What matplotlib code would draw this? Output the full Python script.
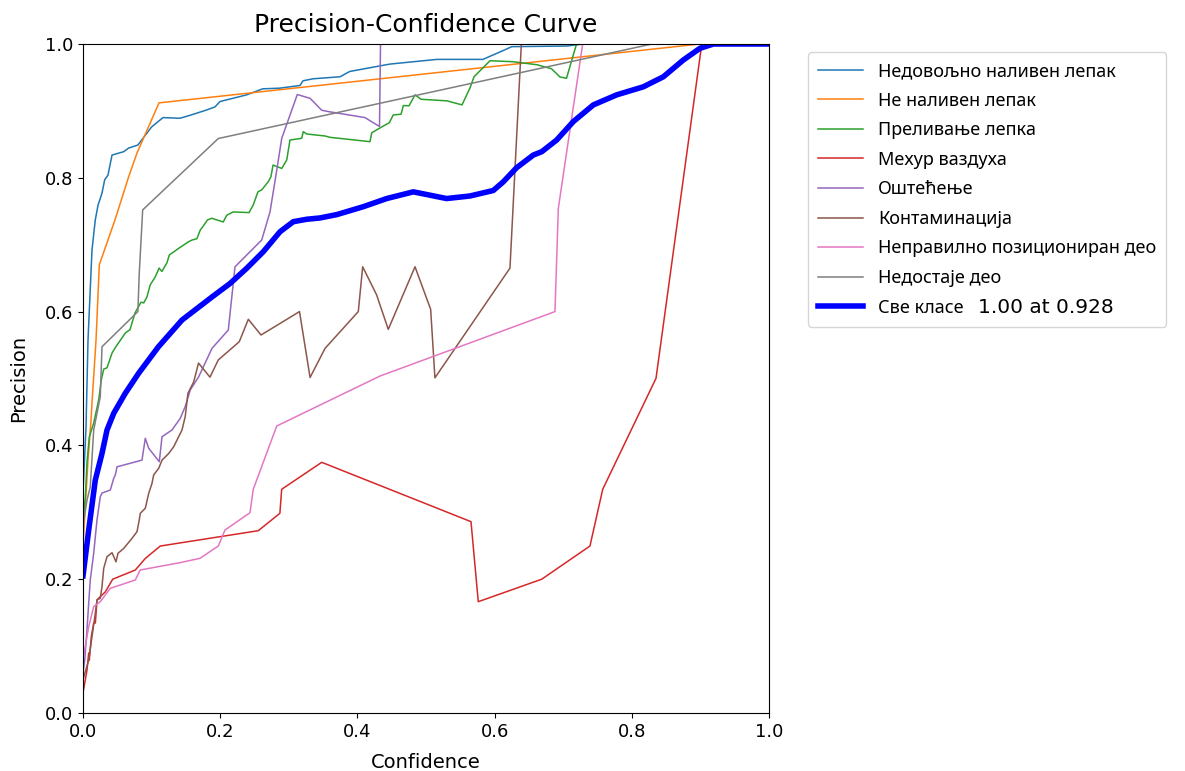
import matplotlib
matplotlib.use("Agg")
import matplotlib.pyplot as plt

plt.rcParams['font.family'] = ['DejaVu Sans']

title = "Precision-Confidence Curve"
xlabel = "Confidence"
ylabel = "Precision"

class_names = [
    "Недовољно наливен лепак",
    "Не наливен лепак",
    "Преливање лепка",
    "Мехур ваздуха",
    "Оштећење",
    "Контаминација",
    "Неправилно позициониран део",
    "Недостаје део",
]
all_name = "Све класе"
all_score = "1.00 at 0.928"

c0_x = [0.0, 0.0044, 0.0073, 0.0131, 0.0179, 0.0219, 0.0277, 0.0316, 0.0364, 0.0423, 0.0593, 0.0666, 0.080,
        0.100, 0.1166, 0.1414, 0.156, 0.180, 0.1924, 0.1997, 0.2386, 0.262, 0.287, 0.3163, 0.3207, 0.3353,
        0.3746, 0.389, 0.4475, 0.516, 0.583, 0.612, 0.625, 0.7055, 0.729, 1.0]
c0_y = [0.33, 0.4275, 0.5575, 0.692, 0.737, 0.759, 0.777, 0.797, 0.804, 0.834, 0.839, 0.8445, 0.849,
        0.876, 0.890, 0.889, 0.8934, 0.9013, 0.906, 0.914, 0.924, 0.933, 0.934, 0.938, 0.945, 0.948,
        0.951, 0.959, 0.970, 0.977, 0.977, 0.990, 0.996, 0.997, 1.0, 1.0]

c1_x = [0.0, 0.0073, 0.0117, 0.0131, 0.019, 0.0238, 0.0466, 0.0666, 0.0787, 0.1108, 0.899, 1.0]
c1_y = [0.25, 0.378, 0.438, 0.463, 0.5575, 0.670, 0.737, 0.8017, 0.837, 0.912, 1.0, 1.0]

c2_x = [0.0, 0.0034, 0.0058, 0.0092, 0.0156, 0.0229, 0.0267, 0.0302, 0.035, 0.0423, 0.047, 0.0617, 0.0685,
        0.0758, 0.0845, 0.0885, 0.0933, 0.098, 0.1054, 0.111, 0.115, 0.1224, 0.1258, 0.1395, 0.154, 0.159,
        0.166, 0.171, 0.1754, 0.1815, 0.1876, 0.2045, 0.2095, 0.219, 0.242, 0.248, 0.255, 0.2605, 0.270,
        0.274, 0.277, 0.2897, 0.297, 0.3017, 0.3188, 0.3211, 0.326, 0.3528, 0.360, 0.4183, 0.421, 0.4378,
        0.4465, 0.4523, 0.4636, 0.467, 0.4752, 0.484, 0.4927, 0.5306, 0.5525, 0.564, 0.570, 0.5933, 0.627,
        0.6618, 0.683, 0.6953, 0.7048, 0.7194, 1.0]
c2_y = [0.29, 0.323, 0.374, 0.4126, 0.4335, 0.468, 0.498, 0.514, 0.516, 0.538, 0.546, 0.568, 0.573,
        0.598, 0.614, 0.613, 0.622, 0.640, 0.652, 0.665, 0.660, 0.673, 0.6846, 0.6946, 0.7045, 0.707,
        0.709, 0.722, 0.728, 0.737, 0.7395, 0.734, 0.744, 0.749, 0.748, 0.759, 0.779, 0.782, 0.794,
        0.8017, 0.819, 0.814, 0.8266, 0.8565, 0.859, 0.869, 0.8655, 0.8625, 0.8605, 0.854, 0.8674, 0.8774,
        0.8823, 0.894, 0.895, 0.908, 0.9076, 0.924, 0.9174, 0.915, 0.909, 0.934, 0.951, 0.975, 0.9735,
        0.969, 0.963, 0.9507, 0.9487, 1.0, 1.0]

c3_x = [0.0, 0.0058, 0.0083, 0.0092, 0.0121, 0.0156, 0.018, 0.0204, 0.0252, 0.0325, 0.0433, 0.0762, 0.0908,
        0.1127, 0.2555, 0.287, 0.2896, 0.348, 0.5656, 0.5762, 0.6687, 0.739, 0.7576, 0.8353, 0.902, 1.0]
c3_y = [0.03, 0.064, 0.0897, 0.079, 0.114, 0.1345, 0.1345, 0.169, 0.174, 0.181, 0.200, 0.2137, 0.231,
        0.2496, 0.2725, 0.2985, 0.3344, 0.3747, 0.286, 0.1664, 0.200, 0.2496, 0.3344, 0.5003, 1.0, 1.0]

c4_x = [0.0, 0.0025, 0.0058, 0.0083, 0.0106, 0.0156, 0.0204, 0.0252, 0.0277, 0.0398, 0.0448, 0.0471, 0.0496,
        0.086, 0.0908, 0.0958, 0.1112, 0.1152, 0.1297, 0.1418, 0.149, 0.1564, 0.1687, 0.188, 0.2118, 0.2216,
        0.2605, 0.2726, 0.2813, 0.2897, 0.3124, 0.331, 0.348, 0.3576, 0.411, 0.4322, 0.4337, 1.0]
c4_y = [0.06, 0.079, 0.124, 0.164, 0.199, 0.239, 0.2885, 0.3233, 0.3288, 0.3333, 0.3508, 0.3558, 0.368,
        0.378, 0.4106, 0.3957, 0.3756, 0.413, 0.423, 0.4405, 0.458, 0.483, 0.5027, 0.545, 0.5725, 0.667,
        0.707, 0.749, 0.804, 0.859, 0.9245, 0.9188, 0.901, 0.899, 0.890, 0.8767, 1.0, 1.0]

c5_x = [0.0, 0.0083, 0.0131, 0.0179, 0.0204, 0.0252, 0.0277, 0.0302, 0.035, 0.0423, 0.0481, 0.051, 0.0593,
        0.0714, 0.0787, 0.082, 0.0835, 0.0908, 0.0958, 0.1006, 0.103, 0.1104, 0.1152, 0.125, 0.1322, 0.1443,
        0.149, 0.153, 0.1614, 0.1684, 0.1851, 0.1972, 0.2278, 0.241, 0.2595, 0.3156, 0.331, 0.3528, 0.4013,
        0.4077, 0.428, 0.445, 0.484, 0.5068, 0.513, 0.6224, 0.639, 1.0]
c5_y = [0.05, 0.079, 0.114, 0.149, 0.169, 0.1715, 0.189, 0.2163, 0.2336, 0.2396, 0.226, 0.2387, 0.246,
        0.261, 0.271, 0.2885, 0.2985, 0.306, 0.3284, 0.3433, 0.3558, 0.3658, 0.378, 0.388, 0.398, 0.423,
        0.443, 0.478, 0.495, 0.523, 0.502, 0.5277, 0.555, 0.5885, 0.565, 0.600, 0.5015, 0.545, 0.600,
        0.667, 0.625, 0.5735, 0.667, 0.6034, 0.501, 0.665, 1.0, 1.0]

c6_x = [0.0, 0.0083, 0.0156, 0.0252, 0.0398, 0.0762, 0.0835, 0.1414, 0.1706, 0.1972, 0.207, 0.2434, 0.2482,
        0.2824, 0.433, 0.688, 0.6929, 0.7284, 1.0]
c6_y = [0.08, 0.129, 0.159, 0.1664, 0.1864, 0.1988, 0.2138, 0.2247, 0.2312, 0.2496, 0.2735, 0.2994, 0.3344,
        0.429, 0.5037, 0.600, 0.7544, 1.0, 1.0]

c7_x = [0.0, 0.0058, 0.0106, 0.0156, 0.0252, 0.0277, 0.0302, 0.080, 0.082, 0.087, 0.1972, 0.8294, 1.0]
c7_y = [0.28, 0.318, 0.338, 0.423, 0.473, 0.5475, 0.550, 0.600, 0.657, 0.752, 0.8587, 1.0, 1.0]

all_x = [0.0, 0.0083, 0.0179, 0.0277, 0.035, 0.0448, 0.0617, 0.0812, 0.110, 0.1443, 0.1895, 0.2143, 0.2386,
         0.2628, 0.2872, 0.3066, 0.326, 0.3455, 0.37, 0.4086, 0.4427, 0.4815, 0.5058, 0.530, 0.564, 0.598,
         0.6127, 0.632, 0.6564, 0.6687, 0.6905, 0.7147, 0.744, 0.778, 0.8168, 0.846, 0.875, 0.8994, 0.919, 1.0]
all_y = [0.205, 0.2735, 0.348, 0.388, 0.423, 0.448, 0.478, 0.508, 0.5475, 0.5874, 0.623, 0.642, 0.6647,
         0.6895, 0.7194, 0.7344, 0.738, 0.740, 0.745, 0.7568, 0.769, 0.779, 0.774, 0.769, 0.7728, 0.781,
         0.794, 0.815, 0.834, 0.839, 0.8565, 0.884, 0.909, 0.924, 0.936, 0.951, 0.976, 0.9936, 1.0, 1.0]

series_x = [c0_x, c1_x, c2_x, c3_x, c4_x, c5_x, c6_x, c7_x]
series_y = [c0_y, c1_y, c2_y, c3_y, c4_y, c5_y, c6_y, c7_y]

fig = plt.figure(figsize=(11.85, 7.71), dpi=100)
ax = fig.add_axes([83/1185, 1-713/771, (769-83)/1185, (713-44)/771])

for xs, ys, name in zip(series_x, series_y, class_names):
    ax.plot(xs, ys, linewidth=1.1, label=name)
ax.plot(all_x, all_y, linewidth=4, color='blue', label=all_name)

ax.set_xlim(0, 1)
ax.set_ylim(0, 1)
ax.set_xlabel(xlabel, fontsize=14, labelpad=9)
ax.set_ylabel(ylabel, fontsize=14, labelpad=12)
ax.set_title(title, fontsize=18, pad=9)
ax.tick_params(labelsize=13)
leg = ax.legend(bbox_to_anchor=(1.057, 0.988), loc='upper left', borderaxespad=0,
                prop={'family': 'Noto Sans', 'size': 13}, labelspacing=0.64, borderpad=0.56,
                handlelength=2.5, handletextpad=0.8)

fig.canvas.draw()
renderer = fig.canvas.get_renderer()
bb = leg.get_texts()[-1].get_window_extent(renderer)
fig.text((bb.x1 + 15) / 1185, (bb.y0 + bb.y1) / 2 / 771, all_score,
         fontsize=14.5, family='DejaVu Sans', va='center', ha='left')

fig.savefig("out.png", dpi=100)
